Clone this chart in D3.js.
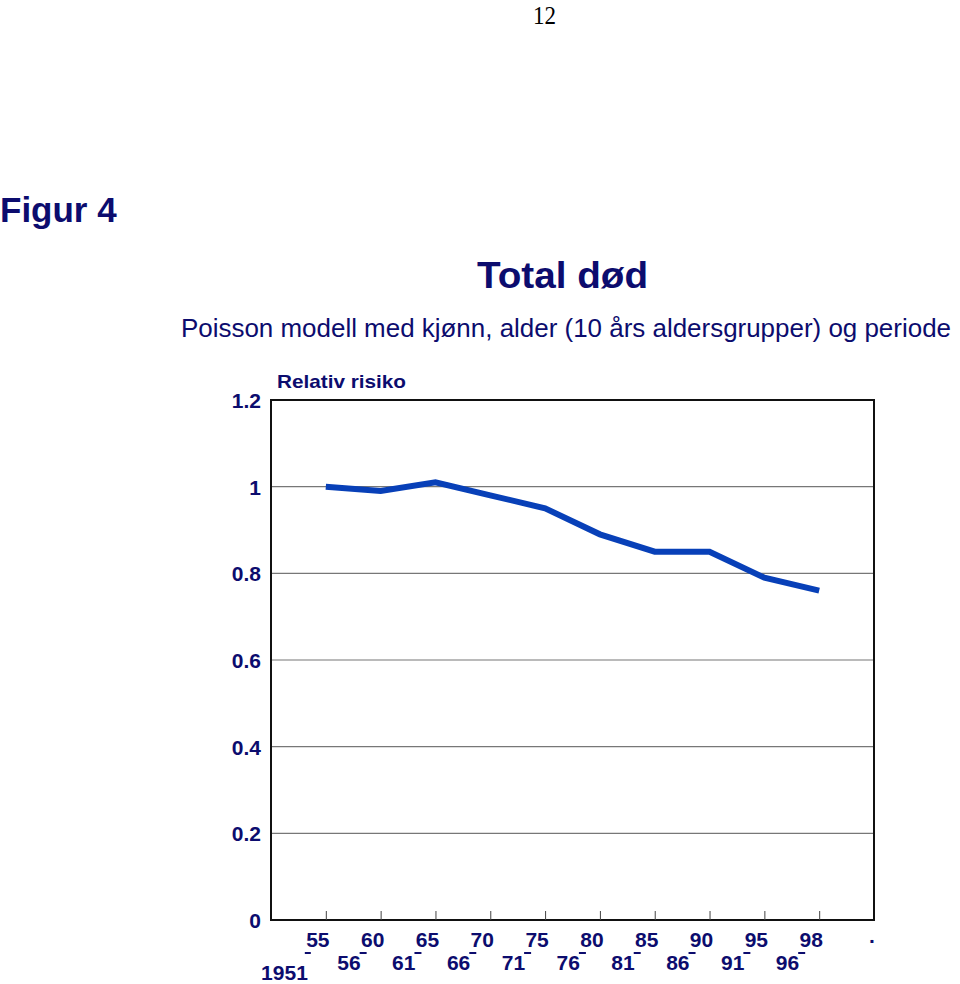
<!DOCTYPE html>
<html>
<head>
<meta charset="utf-8">
<script src="https://cdn.jsdelivr.net/npm/d3@7"></script>
<style>
  body { margin: 0; background: #fff; }
  svg { display: block; }
</style>
</head>
<body>
<div id="chart"></div>
<script>
// period labels (start - end) and relative risk per period
const periodStart = ["1951", "56", "61", "66", "71", "76", "81", "86", "91", "96"];
const periodEnd = ["55", "60", "65", "70", "75", "80", "85", "90", "95", "98"];
const relRisk = [1.00, 0.99, 1.01, 0.98, 0.95, 0.89, 0.85, 0.85, 0.79, 0.76];
const yTicks = [0, 0.2, 0.4, 0.6, 0.8, 1, 1.2];

const width = 960, height = 984;
const navy = "#0c0c6e";
const lineBlue = "#0840b8";
const font = "'Liberation Sans', Arial, sans-serif";

const svg = d3.select("#chart").append("svg")
    .attr("width", width)
    .attr("height", height);

// page number
svg.append("text")
    .attr("x", 533).attr("y", 24)
    .attr("textLength", 23)
    .attr("lengthAdjust", "spacingAndGlyphs")
    .style("font-family", "'Liberation Serif', 'Times New Roman', serif")
    .style("font-size", "26px")
    .text("12");

svg.append("text")
    .attr("x", 0).attr("y", 222)
    .style("font-family", font)
    .style("font-size", "35px")
    .style("font-weight", "bold")
    .attr("fill", navy)
    .text("Figur 4");

svg.append("text")
    .attr("x", 477).attr("y", 288)
    .attr("textLength", 171)
    .attr("lengthAdjust", "spacingAndGlyphs")
    .style("font-family", font)
    .style("font-size", "37px")
    .style("font-weight", "bold")
    .attr("fill", navy)
    .text("Total død");

svg.append("text")
    .attr("x", 181).attr("y", 337)
    .attr("textLength", 770)
    .attr("lengthAdjust", "spacingAndGlyphs")
    .style("font-family", font)
    .style("font-size", "26px")
    .attr("fill", navy)
    .text("Poisson modell med kjønn, alder (10 års aldersgrupper) og periode");

// plot area
const plotLeft = 271, plotRight = 874, plotTop = 400, plotBottom = 920;

const x = d3.scalePoint()
    .domain(d3.range(relRisk.length))
    .range([plotLeft, plotRight])
    .padding(1);

const y = d3.scaleLinear()
    .domain([0, 1.2])
    .range([plotBottom, plotTop]);

// gridlines
svg.append("g")
    .selectAll("line")
    .data(yTicks.filter(d => d > 0 && d < 1.2))
    .join("line")
    .attr("x1", plotLeft).attr("x2", plotRight)
    .attr("y1", d => y(d)).attr("y2", d => y(d))
    .attr("stroke", "#777")
    .attr("stroke-width", 1.2);

// frame
svg.append("rect")
    .attr("x", plotLeft).attr("y", plotTop)
    .attr("width", plotRight - plotLeft).attr("height", plotBottom - plotTop)
    .attr("fill", "none")
    .attr("stroke", "#111")
    .attr("stroke-width", 2);

// y axis labels
const yAxis = d3.axisLeft(y)
    .tickValues(yTicks)
    .tickSize(0)
    .tickPadding(10)
    .tickFormat(d => d3.format("~g")(d));
const gy = svg.append("g")
    .attr("transform", `translate(${plotLeft},0)`)
    .call(yAxis);
gy.select(".domain").remove();
gy.selectAll("text")
    .attr("fill", navy)
    .attr("dy", "0.36em")
    .style("font-family", font)
    .style("font-size", "21px")
    .style("font-weight", "bold");

svg.append("text")
    .attr("x", 277).attr("y", 388)
    .attr("textLength", 129)
    .attr("lengthAdjust", "spacingAndGlyphs")
    .style("font-family", font)
    .style("font-size", "19px")
    .style("font-weight", "bold")
    .attr("fill", navy)
    .text("Relativ risiko");

// x ticks pointing up into plot
const xAxis = d3.axisTop(x)
    .tickSize(9)
    .tickFormat("");
const gx = svg.append("g")
    .attr("transform", `translate(0,${plotBottom})`)
    .call(xAxis);
gx.select(".domain").remove();
gx.selectAll("line").attr("stroke", "#444").attr("stroke-width", 1);

// x labels: end year top row, start year lower row with a dash
const labels = svg.append("g")
    .style("font-family", font)
    .style("font-size", "21px")
    .style("font-weight", "bold")
    .attr("fill", navy);

labels.selectAll(".endlab")
    .data(periodEnd)
    .join("text")
    .attr("class", "endlab")
    .attr("x", (d, i) => x(i) - 8)
    .attr("y", 947)
    .attr("text-anchor", "middle")
    .text(d => d);

labels.selectAll(".startlab")
    .data(periodStart)
    .join("text")
    .attr("class", "startlab")
    .attr("x", (d, i) => x(i) - (i === 0 ? 18 : 20))
    .attr("y", (d, i) => i === 0 ? 980 : 970)
    .attr("text-anchor", "end")
    .text(d => d);

labels.selectAll(".dash")
    .data(periodStart)
    .join("line")
    .attr("class", "dash")
    .attr("x1", (d, i) => x(i) - 21)
    .attr("x2", (d, i) => x(i) - (i === 0 ? 15 : 14))
    .attr("y1", 953).attr("y2", 953)
    .attr("stroke", navy)
    .attr("stroke-width", 2);

labels.append("text")
    .attr("x", 872).attr("y", 943)
    .attr("text-anchor", "middle")
    .text(".");

// relative risk line
const line = d3.line()
    .x((d, i) => x(i))
    .y(d => y(d));

svg.append("path")
    .datum(relRisk)
    .attr("d", line)
    .attr("fill", "none")
    .attr("stroke", lineBlue)
    .attr("stroke-width", 6)
    .attr("stroke-linejoin", "miter");
</script>
</body>
</html>
